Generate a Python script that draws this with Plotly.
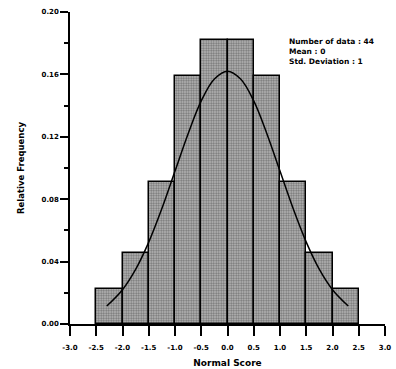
import plotly.graph_objects as go

bin_left = [-2.5, -2.0, -1.5, -1.0, -0.5, 0.0, 0.5, 1.0, 1.5, 2.0]
bin_width = 0.5
counts = [1, 2, 4, 7, 8, 8, 7, 4, 2, 1]
n_data = 44
rel_freq = [c / n_data for c in counts]

curve_x = [-2.3, -2.0, -1.75, -1.5, -1.25, -1.0, -0.75, -0.5, -0.25, 0.0, 0.25, 0.5, 0.75, 1.0, 1.25, 1.5, 1.75, 2.0, 2.3]
curve_y = [0.0115, 0.022, 0.035, 0.0525, 0.074, 0.098, 0.122, 0.143, 0.157, 0.162, 0.157, 0.143, 0.122, 0.098, 0.074, 0.0525, 0.035, 0.022, 0.0115]

x_ticks = [-3.0, -2.5, -2.0, -1.5, -1.0, -0.5, 0.0, 0.5, 1.0, 1.5, 2.0, 2.5, 3.0]
y_ticks = [0.00, 0.04, 0.08, 0.12, 0.16, 0.20]

font_family = "DejaVu Sans"
W, H = 396, 369
L, R, T, B = 70, 11, 12, 45
pw, ph = W - L - R, H - T - B

fig = go.Figure()
fig.add_trace(go.Bar(
    x=[b + bin_width / 2 for b in bin_left],
    y=rel_freq,
    width=bin_width,
    marker=dict(
        color="#bdbdbd",
        line=dict(color="black", width=1.5),
        pattern=dict(shape=".", fgcolor="#2a2a2a", size=2.5, solidity=0.5),
    ),
    showlegend=False,
))
fig.add_trace(go.Scatter(
    x=curve_x, y=curve_y, mode="lines", line=dict(color="black", width=1.5, shape="spline"),
    showlegend=False,
))

fig.update_layout(
    width=W, height=H,
    margin=dict(l=L, r=R, t=T, b=B, autoexpand=False),
    plot_bgcolor="white", paper_bgcolor="white",
    bargap=0,
    font=dict(family=font_family, size=7, color="black"),
    xaxis=dict(
        range=[-3, 3], tickvals=x_ticks, ticktext=[f"<b>{v:.1f}</b>" for v in x_ticks],
        showgrid=False, zeroline=False, showline=True, linecolor="black", linewidth=1.5,
        ticks="outside", ticklen=10, tickwidth=1.5, tickcolor="black", automargin=False,
        ticklabelstandoff=6,
        tickfont=dict(family=font_family, size=7),
        title=dict(text="<b>Normal Score</b>", font=dict(family=font_family, size=9), standoff=9),
    ),
    yaxis=dict(
        range=[0, 0.2], tickvals=y_ticks, ticktext=[f"<b>{v:.2f}</b>" for v in y_ticks],
        showgrid=False, zeroline=False, showline=True, linecolor="black", linewidth=1.5,
        ticks="outside", ticklen=8, tickwidth=1.5, tickcolor="black", automargin=False,
        tickfont=dict(family=font_family, size=7),
        minor=dict(dtick=0.02, ticks="outside", ticklen=4, tickwidth=1.5, tickcolor="black", showgrid=False),
        title=dict(text="<b>Relative Frequency</b>", font=dict(family=font_family, size=8.5), standoff=16),
    ),
)

# y axis line continues down to the x tick level
fig.add_shape(type="line", xref="paper", yref="paper", x0=0, x1=0, y0=0, y1=-10 / ph,
              line=dict(color="black", width=1.5))

fig.add_annotation(
    x=(287 - L) / pw, y=1 - (35 - T) / ph, xref="paper", yref="paper", showarrow=False,
    text="<b>Number of data : 44<br>Mean : 0<br>Std. Deviation : 1</b>",
    align="left", xanchor="left", yanchor="top",
    font=dict(family=font_family, size=7.5),
)

fig.write_html(
    "out.html",
    config={"displayModeBar": False},
    post_script="document.body.style.margin='0';document.body.style.overflow='hidden';",
)
